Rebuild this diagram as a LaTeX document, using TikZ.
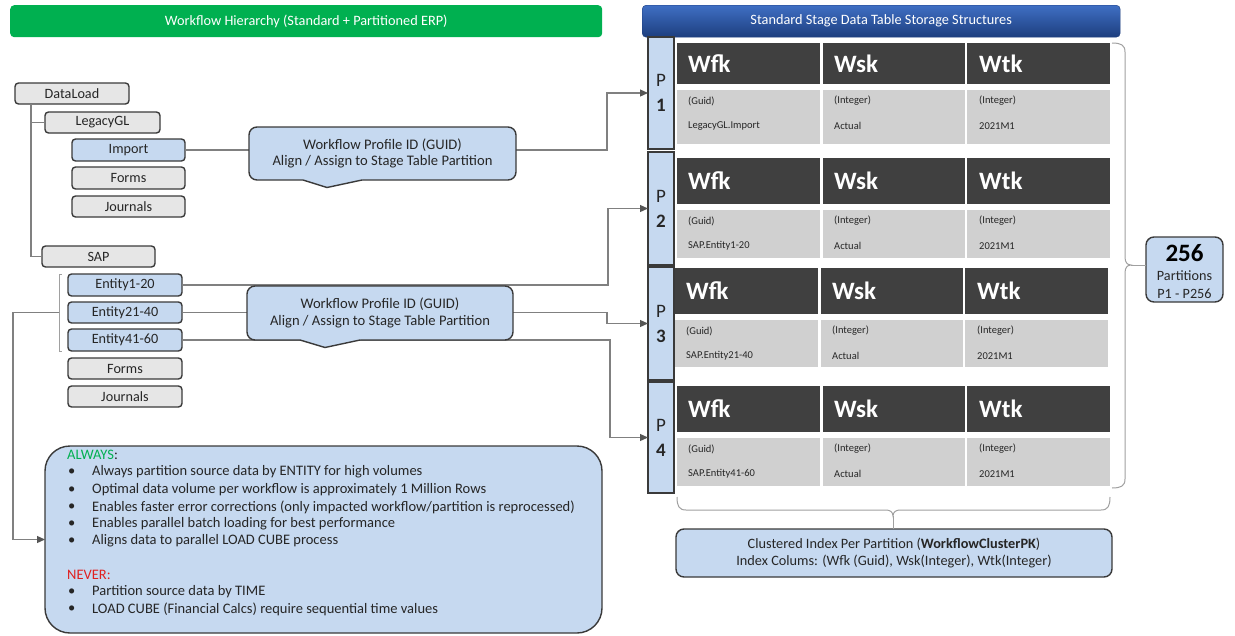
\documentclass[tikz,border=0pt]{standalone}
\usepackage{fontspec}
\setmainfont{Carlito}
\usetikzlibrary{arrows.meta,calc}

\definecolor{boxblue}{HTML}{C6D9F0}
\definecolor{boxgray}{HTML}{E6E6E6}
\definecolor{edge}{HTML}{3A3A3A}
\definecolor{wirecol}{HTML}{808080}
\definecolor{brkcol}{HTML}{A0A0A0}
\definecolor{tipcol}{HTML}{555555}
\definecolor{hdr}{HTML}{404040}
\definecolor{rowgray}{HTML}{D0D0D0}
\definecolor{txt}{HTML}{262626}
\definecolor{erpgreen}{HTML}{00B050}
\definecolor{navytop}{HTML}{3F6FC4}
\definecolor{navybot}{HTML}{1D3E7E}
\definecolor{nevered}{HTML}{E02020}

\newcommand\fsz[2]{\fontsize{#1}{#2}\selectfont}

\tikzset{
  nbox/.style={draw=edge, line width=1.4pt, inner sep=0pt, outer sep=0pt, anchor=north west, text=txt},
  treebox/.style={nbox, rounded corners=3.5pt, font=\fsz{14.2}{16}},
  graybox/.style={treebox, fill=boxgray},
  bluebox/.style={treebox, fill=boxblue},
  cbox/.style={nbox, fill=boxblue, rounded corners=8pt, align=center, font=\fsz{14.6}{16.5}},
  pbox/.style={nbox, fill=boxblue, align=center, font=\fsz{19}{25}},
  wire/.style={draw=wirecol, line width=1.2pt},
  brk/.style={draw=brkcol, line width=1pt},
  flow/.style={wire, -{Triangle[length=8pt,width=7pt,color=tipcol]}},
  headtxt/.style={anchor=west, inner sep=0pt, text=white, font=\fsz{25}{25}\bfseries},
  celltxt/.style={anchor=west, inner sep=0pt, text=txt, font=\fsz{10.5}{12}},
  bartxt/.style={text=white, font=\fsz{14.3}{16}},
  notetxt/.style={anchor=west, inner sep=0pt, text=txt, font=\fsz{14.5}{16}},
}

% one partition table: #1 name, #2 left x, #3 header top, #4 header height, #5 row height, #6 workflow key
\newcommand\stagetable[6]{%
  \foreach \off/\w in {0/143, 146/142, 290/143} {
    \fill[hdr] (#2+\off, #3) rectangle ++(\w, #4);
    \fill[rowgray] (#2+\off, #3+#4+6) rectangle ++(\w, #5);
  }
  \node[headtxt] (#1h1) at (#2+11, #3+#4/2) {Wfk};
  \node[headtxt] (#1h2) at (#2+157, #3+#4/2) {Wsk};
  \node[headtxt] (#1h3) at (#2+302, #3+#4/2) {Wtk};
  \node[celltxt] (#1t1) at (#2+11, #3+#4+17) {(Guid)};
  \node[celltxt] (#1t2) at (#2+157, #3+#4+17) {(Integer)};
  \node[celltxt] (#1t3) at (#2+302, #3+#4+17) {(Integer)};
  \node[celltxt] (#1v1) at (#2+11, #3+#4+42) {#6};
  \node[celltxt] (#1v2) at (#2+157, #3+#4+42) {Actual};
  \node[celltxt] (#1v3) at (#2+302, #3+#4+42) {2021M1};
}

% pointer under a callout: #1 node, #2 left offset, #3 tip offset, #4 right offset, #5 depth
\newcommand\calloutptr[5]{%
  \fill[boxblue] ($(#1.south west)+(#2,-1.2)$) -- ($(#1.south west)+(#2,0)$)
     -- ($(#1.south west)+(#3,#5)$) -- ($(#1.south west)+(#4,0)$)
     -- ($(#1.south west)+(#4,-1.2)$) -- cycle;
  \draw[draw=edge, line width=1.4pt, line join=round]
     ($(#1.south west)+(#2,0)$) -- ($(#1.south west)+(#3,#5)$) -- ($(#1.south west)+(#4,0)$);
}

\begin{document}
\begin{tikzpicture}[x=1pt,y=-1pt]
\useasboundingbox (0,0) rectangle (1235,635);

% title bars
\node[anchor=north west, minimum width=592pt, minimum height=32pt, inner sep=0pt,
      fill=erpgreen, rounded corners=4pt, bartxt] (leftbar) at (10,5)
      {Workflow Hierarchy (Standard + Partitioned ERP)};
\node[anchor=north west, minimum width=478pt, minimum height=32pt, inner sep=0pt,
      top color=navytop, bottom color=navybot, draw=navybot, rounded corners=4pt, bartxt] (rightbar) at (642,5)
      {Standard Stage Data Table Storage Structures};

% workflow tree
\node[graybox, minimum width=114pt, minimum height=21pt] (dataload) at (15,83) {DataLoad};
\node[graybox, minimum width=115pt, minimum height=21pt] (legacy) at (45,112) {LegacyGL};
\node[bluebox, minimum width=113pt, minimum height=22pt] (import) at (72,139) {Import};
\node[graybox, minimum width=113pt, minimum height=22pt] (lgforms) at (72,167) {Forms};
\node[graybox, minimum width=113pt, minimum height=21pt] (lgjournals) at (72,196) {Journals};
\node[graybox, minimum width=113pt, minimum height=21pt] (sap) at (42,246) {SAP};
\node[bluebox, minimum width=114pt, minimum height=22pt] (ent1) at (68,274) {Entity1-20};
\node[bluebox, minimum width=114pt, minimum height=21pt] (ent2) at (68,302) {Entity21-40};
\node[bluebox, minimum width=114pt, minimum height=22pt] (ent3) at (68,329) {Entity41-60};
\node[graybox, minimum width=114pt, minimum height=21pt] (sapforms) at (68,358) {Forms};
\node[graybox, minimum width=114pt, minimum height=21pt] (sapjournals) at (68,386) {Journals};

\coordinate (trunk) at ($(dataload.south west)+(16,0)$);
\draw[wire] (trunk) |- (sap.west);
\draw[wire] (trunk |- legacy.west) -- (legacy.west);

% partition column
\node[pbox, minimum width=26pt, minimum height=112pt] (p1) at (648,37) {P\\\textbf{1}};
\node[pbox, minimum width=26pt, minimum height=113pt] (p2) at (648,152) {P\\\textbf{2}};
\node[pbox, minimum width=26pt, minimum height=113pt] (p3) at (648,267) {P\\\textbf{3}};
\node[pbox, minimum width=26pt, minimum height=111pt] (p4) at (648,382) {P\\\textbf{4}};

% stage tables
\stagetable{ta}{677}{43}{41}{54}{LegacyGL.Import}
\stagetable{tb}{677}{158}{46}{48}{SAP.Entity1-20}
\stagetable{tc}{675}{268}{46}{47}{SAP.Entity21-40}
\stagetable{td}{677}{386}{46}{48}{SAP.Entity41-60}

% notes and index boxes
\node[nbox, fill=boxblue, rounded corners=25pt, minimum width=557pt, minimum height=187pt] (notes) at (45,446) {};
\node[nbox, fill=boxblue, rounded corners=8pt, minimum width=436pt, minimum height=48pt,
      align=center, font=\fsz{14.3}{17}] (index) at (676,529)
      {Clustered Index Per Partition (\textbf{WorkflowClusterPK})\\Index Colums: (Wfk (Guid), Wsk(Integer), Wtk(Integer)};
\node[nbox, fill=boxblue, rounded corners=8pt, minimum width=77pt, minimum height=65pt] (parts) at (1146,237) {};
\node[text=black, inner sep=0pt, font=\fsz{25}{25}\bfseries] (partsnum) at ($(parts.north)+(0,16)$) {256};
\node[text=txt, inner sep=0pt, font=\fsz{14.2}{16}] (partslbl) at ($(parts.north)+(0,39)$) {Partitions};
\node[text=txt, inner sep=0pt, font=\fsz{14.2}{16}] (partsrng) at ($(parts.north)+(0,57)$) {P1 - P256};

% connectors into the partitions
\draw[wire] (import.east) -- (import.east -| lgforms.east) -- ++(70,0);
\draw[flow] (import.east) ++(331,0) -| ($(p1.west)+(-41,0)$) -- (p1.west);
\draw[flow] (ent1.east) -| ($(p2.west)+(-40,0)$) -- (p2.west);
\draw[flow] (ent2.east) -| ($(p3.west)+(-41,0)$) -- (p3.west);
\draw[flow] (ent3.east) -| ($(p4.west)+(-38,0)$) -- (p4.west);

% callouts
\node[cbox, minimum width=267pt, minimum height=53pt] (cb1) at (249,127)
  {Workflow Profile ID (GUID)\\Align / Assign to Stage Table Partition};
\calloutptr{cb1}{54}{78}{113}{7.5}
\node[cbox, minimum width=266pt, minimum height=54pt] (cb2) at (247,286)
  {Workflow Profile ID (GUID)\\Align / Assign to Stage Table Partition};
\calloutptr{cb2}{53}{78}{113}{7.5}

% SAP entity bracket to the notes
\draw[brk] ($(ent1.north west)+(-6,0)$) -- ++(-3,0) -- ($(ent3.south west)+(-9,0)$) -- ++(3,0);
\coordinate (brkmid) at ($(ent2.west)+(-9,0)$);
\draw[flow] (brkmid) -- ++(-46,0) |- (notes.west);

% brace over the partitions
\draw[brk] (1112,43) .. controls (1121,43) and (1125,45) .. (1125,52) -- (1125,257)
  .. controls (1125,262) and (1127,265) .. (1131,265)
  .. controls (1127,265) and (1125,268) .. (1125,273) -- (1125,479)
  .. controls (1125,486) and (1121,488) .. (1112,488);
\coordinate (rbtip) at (1131,265);
\draw[brk] (rbtip) -- (rbtip -| parts.west);

% brace under the tables
\draw[brk] (677,497) .. controls (677,506) and (679,510) .. (686,510) -- (886,510)
  .. controls (890,510) and (893,512) .. (893,516)
  .. controls (893,512) and (896,510) .. (900,510) -- (1101,510)
  .. controls (1108,510) and (1110,506) .. (1110,497);
\coordinate (bbtip) at (893,516);
\draw[brk] (bbtip) -- (bbtip |- index.north);

% notes text
\node[notetxt] (always) at (67,455) {\textcolor{erpgreen}{ALWAYS}:};
\foreach \yy/\tt [count=\i] in {
  472/Always partition source data by ENTITY for high volumes,
  490/Optimal data volume per workflow is approximately 1 Million Rows,
  507/Enables faster error corrections (only impacted workflow\slash partition is reprocessed),
  524/Enables parallel batch loading for best performance,
  541/Aligns data to parallel LOAD CUBE process} {
  \node[notetxt] (ab\i) at (68,\yy) {\textbullet};
  \node[notetxt] (a\i) at (92,\yy) {\tt};
}
\node[notetxt, text=nevered] (never) at (67,575) {NEVER:};
\foreach \yy/\tt [count=\i] in {
  592/Partition source data by TIME,
  609/LOAD CUBE (Financial Calcs) require sequential time values} {
  \node[notetxt] (nb\i) at (68,\yy) {\textbullet};
  \node[notetxt] (n\i) at (92,\yy) {\tt};
}
\end{tikzpicture}
\end{document}
